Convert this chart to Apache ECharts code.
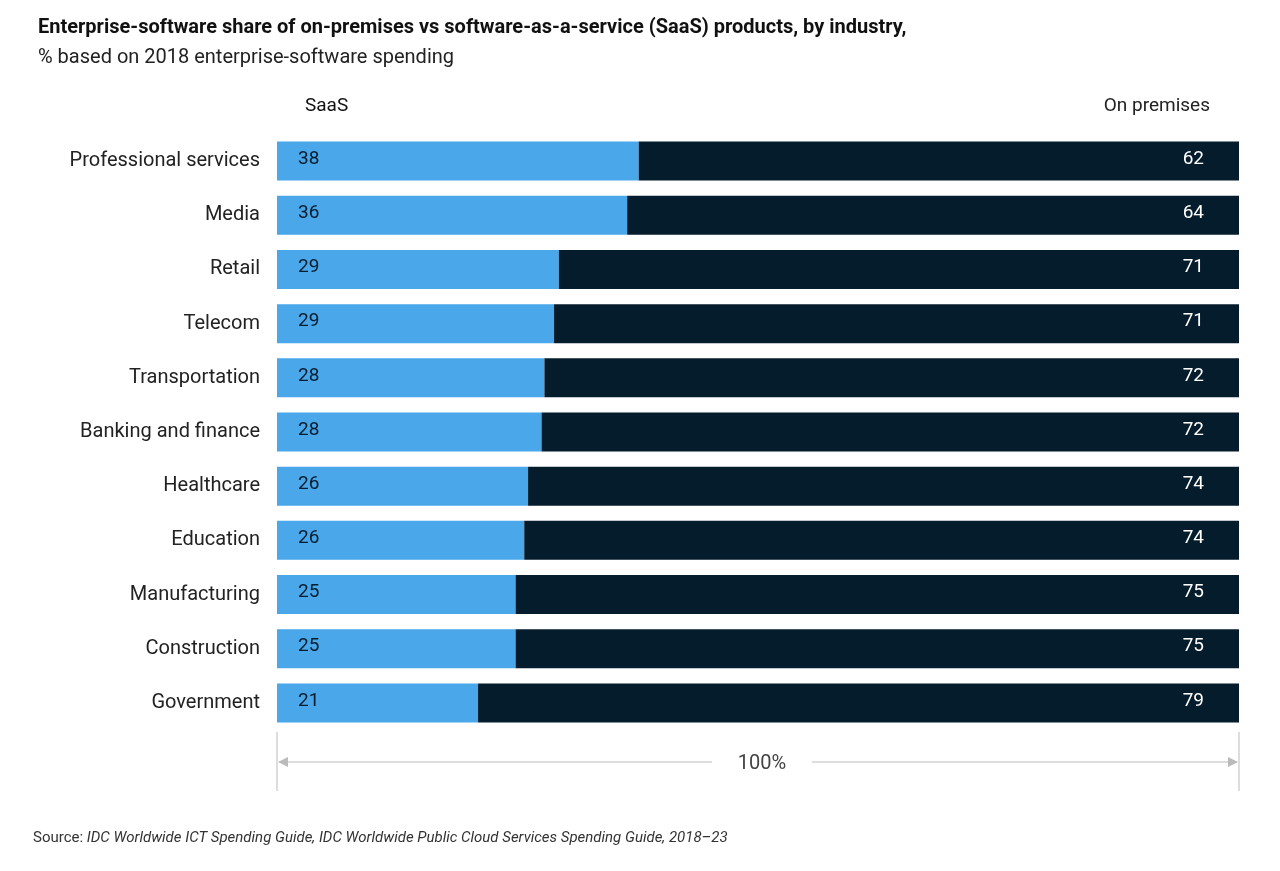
<!DOCTYPE html>
<html><head><meta charset="utf-8">
<script src="https://cdn.jsdelivr.net/npm/echarts@6/dist/echarts.min.js"></script>
<style>html,body{margin:0;padding:0;background:#fff}#c{width:1280px;height:871px}</style>
</head><body><div id="c"></div>
<script>
const categories = ["Professional services","Media","Retail","Telecom","Transportation","Banking and finance","Healthcare","Education","Manufacturing","Construction","Government"];
const saasValues = [37.6,36.4,29.3,28.8,27.8,27.5,26.1,25.7,24.8,24.8,20.9];
const saasLabels = [38,36,29,29,28,28,26,26,25,25,21];
const onPremLabels = [62,64,71,71,72,72,74,74,75,75,79];
const onPremValues = saasValues.map(v => 100 - v);

const chart = echarts.init(document.getElementById('c'));
const F = 'Roboto, "Noto Sans", sans-serif';
chart.setOption({
  animation:false,
  textStyle:{fontFamily:F},
  title:[
    {text:'Enterprise-software share of on-premises vs software-as-a-service (SaaS) products, by industry,',left:33,top:13,textStyle:{fontSize:20,fontWeight:'bold',color:'#111',fontFamily:F}},
    {text:'% based on 2018 enterprise-software spending',left:33,top:43,textStyle:{fontSize:20,fontWeight:'normal',color:'#222',fontFamily:F}}
  ],
  grid:{left:277,right:41,top:134,height:596},
  xAxis:{type:'value',min:0,max:100,show:false},
  yAxis:{type:'category',data:categories,inverse:true,axisLine:{show:false},axisTick:{show:false},
    axisLabel:{fontSize:20,color:'#222',margin:17,fontFamily:F}},
  series:[
    {type:'bar',stack:'a',data:saasValues,barWidth:39,itemStyle:{color:'#49a7ea'},
     label:{show:true,position:'insideLeft',offset:[16,-2],fontSize:19,color:'#051c2c',fontFamily:F,formatter:p=>saasLabels[p.dataIndex]}},
    {type:'bar',stack:'a',data:onPremValues,barWidth:39,itemStyle:{color:'#051c2c'},
     label:{show:true,position:'insideRight',offset:[-30,-2],fontSize:19,color:'#fff',fontFamily:F,formatter:p=>onPremLabels[p.dataIndex]}}
  ],
  graphic:[
    {type:'text',left:305,top:97,style:{text:'SaaS',fontSize:19,fill:'#111',fontFamily:F}},
    {type:'text',right:70,top:97,style:{text:'On premises',fontSize:19,fill:'#222',fontFamily:F}},
    {type:'line',shape:{x1:277,y1:732,x2:277,y2:791},style:{stroke:'#bbb',lineWidth:1}},
    {type:'line',shape:{x1:1239,y1:732,x2:1239,y2:791},style:{stroke:'#bbb',lineWidth:1}},
    {type:'line',shape:{x1:279,y1:762,x2:712,y2:762},style:{stroke:'#bbb',lineWidth:1}},
    {type:'line',shape:{x1:812,y1:762,x2:1237,y2:762},style:{stroke:'#bbb',lineWidth:1}},
    {type:'polygon',shape:{points:[[278,762],[288,757],[288,767]]},style:{fill:'#bbb'}},
    {type:'polygon',shape:{points:[[1238,762],[1228,757],[1228,767]]},style:{fill:'#bbb'}},
    {type:'text',x:762,y:764,style:{text:'100%',fontSize:20,fill:'#444',align:'center',verticalAlign:'middle',fontFamily:F}},
    {type:'text',left:33,top:831,style:{text:'{a|Source: }{b|IDC Worldwide ICT Spending Guide, IDC Worldwide Public Cloud Services Spending Guide, 2018–23}',
      rich:{a:{fontSize:15,fill:'#333',fontFamily:F},b:{fontSize:15,fill:'#333',fontStyle:'italic',fontFamily:F}}}}
  ]
});
</script></body></html>
